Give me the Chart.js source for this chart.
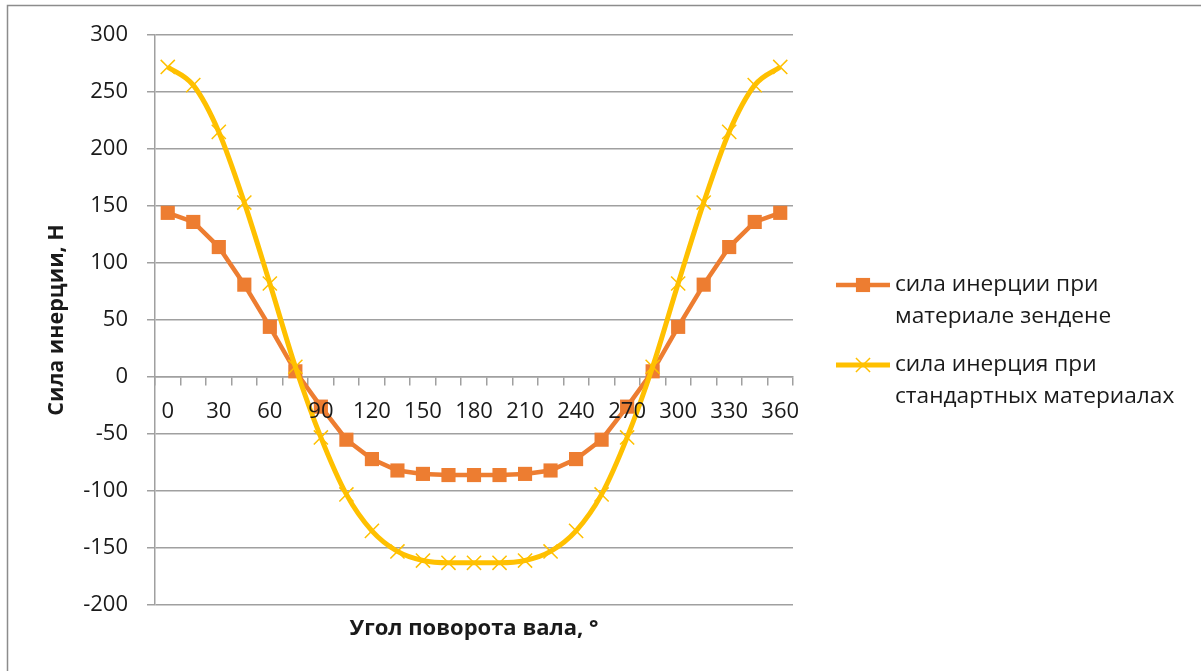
<!DOCTYPE html>
<html>
<head>
<meta charset="utf-8">
<script src="https://cdn.jsdelivr.net/npm/chart.js@4/dist/chart.umd.min.js"></script>
<style>
  html, body { margin: 0; padding: 0; background: #fff; }
  #wrap { width: 1201px; height: 671px; position: relative; }
</style>
</head>
<body>
<div id="wrap"><canvas id="c" width="1201" height="671"></canvas></div>
<script>
// Shaft rotation angle, degrees
const angles = ['0','15','30','45','60','75','90','105','120','135','150','165','180',
                '195','210','225','240','255','270','285','300','315','330','345','360'];
// Inertia force with the zendene material, N
const forceZendene = [144, 136, 114, 81, 44, 5, -26, -55, -72, -82, -85, -86, -86,
                      -86, -85, -82, -72, -55, -26, 5, 44, 81, 114, 136, 144];
// Inertia force with standard materials, N
const forceStandard = [272, 256, 215, 153, 82, 9, -53, -103, -135, -153, -161, -163, -163,
                       -163, -161, -153, -135, -103, -53, 9, 82, 153, 215, 256, 272];
const seriesNames = [
  ['сила инерции при', 'материале зендене'],
  ['сила инерция при', 'стандартных материалах']
];
const yTicks = { min: -200, max: 300, step: 50 };

const FONT = "'Open Sans', 'DejaVu Sans', sans-serif";
const GRID = '#a0a0a0';
const ORANGE = '#ED7D31';
const YELLOW = '#FFC000';

// Frame around the chart (top and left edges visible)
const framePlugin = {
  id: 'frame',
  beforeDraw(chart) {
    const ctx = chart.ctx;
    ctx.save();
    ctx.strokeStyle = '#8c8c8c';
    ctx.lineWidth = 1.5;
    ctx.beginPath();
    ctx.moveTo(7.5, 671);
    ctx.lineTo(7.5, 5.5);
    ctx.lineTo(1201, 5.5);
    ctx.stroke();
    ctx.restore();
  }
};

// Two-line legend on the right
const sideLegend = {
  id: 'sideLegend',
  afterDraw(chart) {
    const ctx = chart.ctx;
    const x0 = 836, x1 = 890, cx = 863, tx = 895;
    const rows = [285, 365];
    const lh = 32;
    ctx.save();
    chart.data.datasets.forEach((ds, i) => {
      const y = rows[i];
      ctx.strokeStyle = ds.borderColor;
      ctx.lineWidth = ds.borderWidth;
      ctx.beginPath();
      ctx.moveTo(x0, y);
      ctx.lineTo(x1, y);
      ctx.stroke();
      const r = ds.pointRadius;
      const s = r * Math.SQRT1_2;
      if (ds.pointStyle === 'rect') {
        ctx.fillStyle = ds.pointBackgroundColor;
        ctx.fillRect(cx - s, y - s, 2 * s, 2 * s);
      } else {
        ctx.strokeStyle = ds.pointBorderColor;
        ctx.lineWidth = ds.pointBorderWidth;
        ctx.beginPath();
        ctx.moveTo(cx - s, y - s); ctx.lineTo(cx + s, y + s);
        ctx.moveTo(cx - s, y + s); ctx.lineTo(cx + s, y - s);
        ctx.stroke();
      }
      ctx.fillStyle = '#1a1a1a';
      ctx.font = '22.7px ' + FONT;
      ctx.textAlign = 'left';
      ctx.textBaseline = 'middle';
      seriesNames[i].forEach((line, k) => ctx.fillText(line, tx, y + k * lh));
    });
    ctx.restore();
  }
};

new Chart(document.getElementById('c'), {
  type: 'line',
  data: {
    labels: angles,
    datasets: [
      {
        label: seriesNames[0].join(' '),
        data: forceZendene,
        borderColor: ORANGE,
        backgroundColor: ORANGE,
        borderWidth: 4.5,
        pointStyle: 'rect',
        pointRadius: 10,
        pointHoverRadius: 10,
        pointBackgroundColor: ORANGE,
        pointBorderColor: ORANGE,
        pointBorderWidth: 0,
        tension: 0,
        order: 2
      },
      {
        label: seriesNames[1].join(' '),
        data: forceStandard,
        borderColor: YELLOW,
        backgroundColor: YELLOW,
        borderWidth: 5,
        pointStyle: 'crossRot',
        pointRadius: 10,
        pointHoverRadius: 10,
        pointBackgroundColor: YELLOW,
        pointBorderColor: YELLOW,
        pointBorderWidth: 1.5,
        cubicInterpolationMode: 'monotone',
        tension: 0.4,
        order: 1
      }
    ]
  },
  options: {
    responsive: false,
    animation: false,
    devicePixelRatio: 1,
    layout: { padding: { top: 35, right: 408, bottom: 0, left: 0 } },
    plugins: {
      legend: { display: false },
      tooltip: { enabled: false }
    },
    scales: {
      x: {
        type: 'category',
        position: { y: 0 },
        offset: true,
        grid: {
          display: true,
          offset: true,
          drawOnChartArea: false,
          drawTicks: true,
          tickLength: 8,
          color: GRID,
          lineWidth: 1.5
        },
        border: { display: true, color: GRID, width: 1.5 },
        ticks: {
          z: 1,
          autoSkip: false,
          maxRotation: 0,
          padding: 14,
          color: '#1a1a1a',
          font: { family: FONT, size: 22 },
          callback: (v, i) => (i % 2 === 0 ? angles[i] : '')
        }
      },
      x2: {
        type: 'category',
        position: 'bottom',
        labels: angles,
        grid: { display: false },
        border: { display: false },
        ticks: { display: false },
        title: {
          display: true,
          text: 'Угол поворота вала, °',
          color: '#1a1a1a',
          font: { family: FONT, size: 22, weight: 'bold' },
          padding: { top: 0, bottom: 29 }
        },
        afterFit: (s) => { s.height = 66; }
      },
      y: {
        min: yTicks.min,
        max: yTicks.max,
        grid: {
          color: GRID,
          lineWidth: 1.5,
          drawTicks: true,
          tickLength: 8
        },
        border: { display: true, color: GRID, width: 1.5 },
        ticks: {
          stepSize: yTicks.step,
          padding: 19,
          color: '#1a1a1a',
          font: { family: FONT, size: 22 }
        },
        title: {
          display: true,
          text: 'Сила инерции, Н',
          color: '#1a1a1a',
          font: { family: FONT, size: 21.5, weight: 'bold' },
          padding: { top: 44, bottom: 0 }
        },
        afterFit: (s) => { s.width = 155; }
      }
    }
  },
  plugins: [framePlugin, sideLegend]
});
</script>
</body>
</html>
